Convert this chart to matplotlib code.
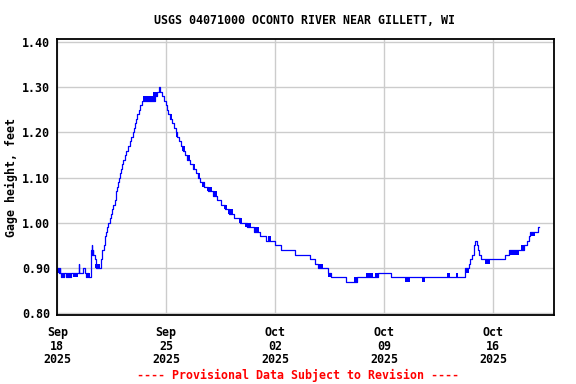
import matplotlib
matplotlib.use('Agg')
import matplotlib.pyplot as plt
import matplotlib.dates as mdates
import numpy as np
from datetime import datetime, timedelta

start = datetime(2025, 9, 18)

# step points: days since Sep 18 2025 00:00, gage height (ft)
days = [0.00, 0.10, 0.16, 0.19, 0.26, 0.29, 0.39, 0.42, 0.58, 0.64,
        0.71, 0.77, 0.84, 0.90, 1.37, 1.41, 1.67, 1.80, 1.86, 1.93,
        1.99, 2.17, 2.20, 2.24, 2.28, 2.31, 2.40, 2.46, 2.78, 2.89,
        2.98, 3.08, 3.15, 3.21, 3.28, 3.37, 3.47, 3.53, 3.60, 3.70,
        3.79, 3.86, 3.92, 3.98, 4.05, 4.11, 4.18, 4.24, 4.34, 4.43,
        4.56, 4.66, 4.76, 4.85, 4.95, 5.01, 5.08, 5.14, 5.24, 5.33,
        5.43, 6.30, 6.43, 6.56, 6.62, 6.75, 6.88, 6.97, 7.07, 7.13,
        7.26, 7.39, 7.52, 7.62, 7.71, 7.84, 7.97, 8.10, 8.23, 8.35,
        8.55, 8.74, 8.93, 9.06, 9.19, 9.45, 9.70, 10.03, 10.28, 10.54,
        10.80, 11.05, 11.38, 11.76, 12.21, 12.66, 13.05, 13.43, 14.01, 14.40,
        15.30, 16.26, 16.58, 16.77, 17.42, 17.61, 18.57, 19.26, 20.63, 21.45,
        26.22, 26.43, 26.54, 26.65, 26.75, 26.86, 26.97, 27.04, 27.12, 27.23,
        28.79, 29.00, 29.97, 30.19, 30.29, 30.40, 30.87, 30.98]
gage = [0.90, 0.89, 0.90, 0.89, 0.88, 0.89, 0.88, 0.89, 0.88, 0.89,
        0.88, 0.89, 0.88, 0.89, 0.91, 0.89, 0.90, 0.89, 0.88, 0.89,
        0.88, 0.94, 0.95, 0.93, 0.94, 0.93, 0.92, 0.90, 0.92, 0.94,
        0.95, 0.97, 0.98, 0.99, 1.00, 1.01, 1.02, 1.03, 1.04, 1.05,
        1.07, 1.08, 1.09, 1.10, 1.11, 1.12, 1.13, 1.14, 1.15, 1.16,
        1.17, 1.18, 1.19, 1.20, 1.21, 1.22, 1.23, 1.24, 1.25, 1.26,
        1.27, 1.28, 1.29, 1.30, 1.29, 1.28, 1.27, 1.26, 1.25, 1.24,
        1.23, 1.22, 1.21, 1.20, 1.19, 1.18, 1.17, 1.16, 1.15, 1.14,
        1.13, 1.12, 1.11, 1.10, 1.09, 1.08, 1.07, 1.06, 1.05, 1.04,
        1.03, 1.02, 1.01, 1.00, 0.99, 0.98, 0.97, 0.96, 0.95, 0.94,
        0.93, 0.92, 0.91, 0.90, 0.89, 0.88, 0.87, 0.88, 0.89, 0.88,
        0.90, 0.91, 0.92, 0.93, 0.95, 0.96, 0.95, 0.94, 0.93, 0.92,
        0.93, 0.94, 0.95, 0.96, 0.97, 0.98, 0.99, 0.99]

# periods where readings flip quickly between two values (start, end, low, high)
band_start = [0.00, 0.62, 1.03, 1.84, 2.44, 5.53, 6.17, 6.83, 7.26, 7.63,
              8.02, 8.40, 8.72, 9.04, 9.30, 9.64, 10.03, 10.73, 11.00, 11.70,
              12.08, 12.66, 13.54, 16.77, 17.42, 19.09, 19.86, 20.44, 22.37, 23.44,
              25.04, 25.64, 26.22, 27.51, 29.00, 29.77, 30.40]
band_end = [0.26, 0.94, 1.33, 2.12, 2.76, 6.30, 6.43, 6.94, 7.39, 7.76,
            8.18, 8.55, 8.87, 9.15, 9.51, 9.94, 10.27, 10.90, 11.31, 11.87,
            12.45, 12.98, 13.74, 17.10, 17.66, 19.26, 20.32, 20.63, 22.69, 23.65,
            25.26, 25.77, 26.43, 27.83, 29.64, 29.97, 30.72]
band_low = [0.89, 0.88, 0.88, 0.88, 0.90, 1.27, 1.28, 1.27, 1.23, 1.19,
            1.16, 1.14, 1.12, 1.10, 1.08, 1.07, 1.06, 1.03, 1.02, 1.00,
            0.99, 0.98, 0.96, 0.90, 0.88, 0.87, 0.88, 0.88, 0.87, 0.87,
            0.88, 0.88, 0.89, 0.91, 0.93, 0.94, 0.97]
band_high = [round(v + 0.01, 2) for v in band_low]

times = [start + timedelta(days=d) for d in days]

plt.rcParams['font.family'] = ['DejaVu Sans Mono']
plt.rcParams['font.weight'] = 'bold'
fs = 8.4

fig = plt.figure(figsize=(5.76, 3.84), dpi=100)
ax = fig.add_axes([57 / 576, 1 - 315.3 / 384, 497 / 576, 276 / 384])

blue = '#0000ff'
ax.step(times, gage, where='post', color=blue, lw=0.9)
for s, e, lo, hi in zip(band_start, band_end, band_low, band_high):
    ax.fill_between([start + timedelta(days=s), start + timedelta(days=e)],
                    [lo, lo], [hi, hi], color=blue, lw=0)

ax.set_xlim(start - timedelta(days=0.02), start + timedelta(days=31.92))
ax.set_ylim(0.7956, 1.406)
ax.set_yticks(np.arange(0.8, 1.41, 0.1))
ax.yaxis.set_major_formatter(plt.FormatStrFormatter('%.2f'))
ax.set_xticks([start + timedelta(days=7 * i) for i in range(5)])
ax.xaxis.set_major_formatter(mdates.DateFormatter('%b\n%d\n%Y'))

ax.grid(True, color='#cccccc', lw=1.0)
ax.set_axisbelow(True)
for sp in ax.spines.values():
    sp.set_linewidth(1.3)
    sp.set_color('black')
ax.tick_params(length=0, labelsize=fs, pad=5)
ax.tick_params(axis='x', pad=8)
for lab in ax.get_xticklabels():
    lab.set_linespacing(1.05)

ax.set_ylabel('Gage height, feet', fontsize=fs, fontweight='bold', labelpad=3)
fig.text(305 / 576, 1 - 20 / 384, 'USGS 04071000 OCONTO RIVER NEAR GILLETT, WI',
         ha='center', va='center', fontsize=fs, fontweight='bold')
fig.text(298 / 576, 1 - 375 / 384, '---- Provisional Data Subject to Revision ----',
         ha='center', va='center', fontsize=fs, fontweight='bold', color='#ff0000')

fig.savefig('out.png', dpi=100)
